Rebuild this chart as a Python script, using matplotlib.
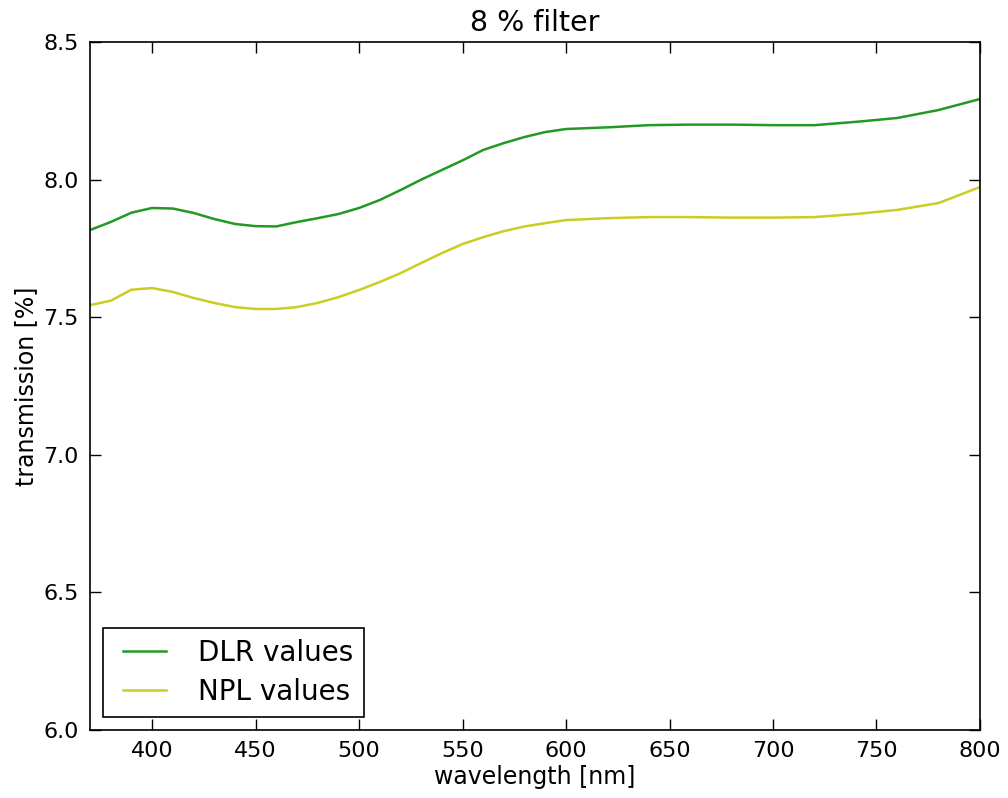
import matplotlib
matplotlib.use("Agg")
import matplotlib.pyplot as plt
from matplotlib.legend_handler import HandlerLine2D

wavelength = [370, 380, 390, 400, 410, 420, 430, 440, 450, 460, 470, 480, 490,
              500, 510, 520, 530, 540, 550, 560, 570, 580, 590, 600, 620, 640,
              660, 680, 700, 720, 740, 760, 780, 800]
dlr_values = [7.817, 7.846, 7.880, 7.897, 7.895, 7.879, 7.857, 7.839, 7.831,
              7.830, 7.846, 7.860, 7.875, 7.897, 7.926, 7.962, 8.000, 8.035,
              8.070, 8.108, 8.133, 8.155, 8.173, 8.184, 8.190, 8.198, 8.200,
              8.200, 8.198, 8.198, 8.210, 8.224, 8.253, 8.293]
npl_values = [7.544, 7.560, 7.600, 7.606, 7.592, 7.570, 7.552, 7.537, 7.530,
              7.530, 7.537, 7.552, 7.573, 7.599, 7.628, 7.660, 7.697, 7.733,
              7.766, 7.791, 7.813, 7.830, 7.842, 7.853, 7.860, 7.864, 7.864,
              7.862, 7.862, 7.864, 7.875, 7.890, 7.915, 7.973]

x_ticks = [400, 450, 500, 550, 600, 650, 700, 750, 800]
y_ticks = [6.0, 6.5, 7.0, 7.5, 8.0, 8.5]


class InsetLineHandler(HandlerLine2D):
    """Legend line drawn only in the right part of the handle box."""
    def get_xdata(self, legend, xdescent, ydescent, width, height, fontsize):
        xdata, xmark = super().get_xdata(legend, xdescent, ydescent, width,
                                         height, fontsize)
        start = -xdescent + 0.18 * width
        end = -xdescent + width
        return [start, end], xmark


fig = plt.figure(figsize=(10.08, 7.98), dpi=100)
ax = fig.add_axes([0.0893, 0.0852, 0.8829, 0.8621])

l1, = ax.plot(wavelength, dlr_values, color="#229922", lw=1.8, label="DLR values")
l2, = ax.plot(wavelength, npl_values, color="#cccc22", lw=1.8, label="NPL values")

ax.set_xlim(370, 800)
ax.set_ylim(6.0, 8.5)
ax.set_xticks(x_ticks)
ax.set_yticks(y_ticks)
ax.set_yticklabels([f"{v:.1f}" for v in y_ticks])
ax.tick_params(direction="in", top=True, right=True, length=8, width=1,
               labelsize=16, pad=8)
for s in ax.spines.values():
    s.set_linewidth(1.2)

ax.set_xlabel("wavelength [nm]", fontsize=17, labelpad=3)
ax.set_ylabel("transmission [%]", fontsize=17, labelpad=4)
ax.set_title("8 % filter", fontsize=20.5, pad=8)

leg = ax.legend(loc="lower left", fontsize=20, fancybox=False, framealpha=1,
                edgecolor="black", borderpad=0.38, handlelength=1.88,
                handletextpad=1.15, labelspacing=0.4, borderaxespad=0.48,
                handler_map={l1: InsetLineHandler(), l2: InsetLineHandler()})
leg.get_frame().set_linewidth(1.2)

fig.savefig("out.png", dpi=100)
